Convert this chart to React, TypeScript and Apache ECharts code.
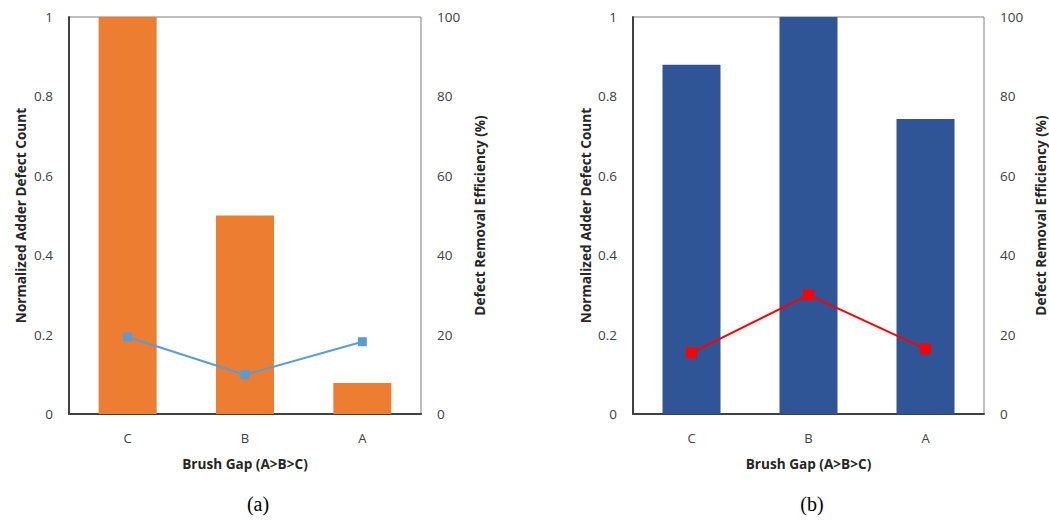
import React, { useEffect, useRef } from "react";
import * as echarts from "echarts";

const categories = ["C", "B", "A"];
const countA = [1.0, 0.5, 0.078];
const effA = [19.4, 9.9, 18.2];
const countB = [0.88, 1.0, 0.743];
const effB = [15.4, 30.0, 16.4];
const leftTicks = [0, 0.2, 0.4, 0.6, 0.8, 1];
const rightTicks = [0, 20, 40, 60, 80, 100];
const captions = ["(a)", "(b)"];

const FONT = "Open Sans";

export default function App() {
  const ref = useRef<HTMLDivElement>(null);
  useEffect(() => {
    if (!ref.current) return;
    const chart = echarts.init(ref.current, undefined, { renderer: "svg" });
    const grids = [
      { left: 69, right: 628, top: 17, bottom: 106 },
      { left: 633, right: 65, top: 17, bottom: 106 },
    ];
    const titleStyle = { fontFamily: FONT, fontSize: 13.6, fontWeight: "bold", color: "#262626" };
    const xAxis = grids.map((_, i) => ({
      type: "category",
      gridIndex: i,
      data: categories,
      name: "Brush Gap (A>B>C)",
      nameLocation: "middle",
      nameGap: 42,
      nameTextStyle: titleStyle,
      axisLine: { lineStyle: { color: "#404040", width: 2 } },
      axisTick: { show: false },
      axisLabel: { fontFamily: FONT, fontSize: 13, color: "#404040", margin: 17 },
    }));
    const yAxis: any[] = [];
    grids.forEach((_, i) => {
      yAxis.push({
        type: "value",
        gridIndex: i,
        min: 0,
        max: 1,
        interval: 0.2,
        name: "Normalized Adder Defect Count",
        nameLocation: "middle",
        nameGap: i === 0 ? 42 : 41,
        nameTextStyle: titleStyle,
        axisLine: { show: true, lineStyle: { color: "#404040", width: 2 } },
        axisTick: { show: false },
        splitLine: { show: false },
        axisLabel: {
          fontFamily: FONT,
          fontSize: 13.5,
          color: "#404040",
          margin: 16,
          formatter: (v: number) => String(leftTicks.find((t) => Math.abs(t - v) < 1e-9) ?? v),
        },
      });
      yAxis.push({
        type: "value",
        gridIndex: i,
        position: "right",
        min: 0,
        max: 100,
        interval: 20,
        name: "Defect Removal Efficiency (%)",
        nameLocation: "middle",
        nameGap: i === 0 ? 51 : 49,
        nameTextStyle: titleStyle,
        axisLine: { show: false },
        axisTick: { show: false },
        splitLine: { show: false },
        axisLabel: {
          fontFamily: FONT,
          fontSize: 13.5,
          color: "#404040",
          margin: 16,
          formatter: (v: number) => String(rightTicks.find((t) => t === v) ?? v),
        },
      });
    });
    chart.setOption({
      animation: false,
      grid: grids.map((g) => ({ ...g, show: true, borderColor: "#7f7f7f", borderWidth: 1 })),
      xAxis,
      yAxis,
      series: [
        {
          type: "bar",
          xAxisIndex: 0,
          yAxisIndex: 0,
          data: countA,
          barWidth: 58,
          itemStyle: { color: "#ED7D31" },
        },
        {
          type: "line",
          xAxisIndex: 0,
          yAxisIndex: 1,
          data: effA,
          symbol: "rect",
          symbolSize: 9,
          lineStyle: { color: "#5B9BD5", width: 2 },
          itemStyle: { color: "#5B9BD5" },
        },
        {
          type: "bar",
          xAxisIndex: 1,
          yAxisIndex: 2,
          data: countB,
          barWidth: 58,
          itemStyle: { color: "#2F5597" },
        },
        {
          type: "line",
          xAxisIndex: 1,
          yAxisIndex: 3,
          data: effB,
          symbol: "rect",
          symbolSize: 11,
          lineStyle: { color: "#FF0000", width: 2 },
          itemStyle: { color: "#FF0000" },
        },
      ],
      graphic: [
        {
          type: "text",
          x: 258,
          y: 504,
          style: {
            text: captions[0],
            font: "20px 'Liberation Serif'",
            fill: "#000",
            textAlign: "center",
            textVerticalAlign: "middle",
          },
        },
        {
          type: "text",
          x: 812,
          y: 504,
          style: {
            text: captions[1],
            font: "20px 'Liberation Serif'",
            fill: "#000",
            textAlign: "center",
            textVerticalAlign: "middle",
          },
        },
      ],
    });
    return () => chart.dispose();
  }, []);
  return (
    <div
      ref={ref}
      style={{ position: "fixed", left: 0, top: 0, width: 1049, height: 520, background: "#fff" }}
    />
  );
}
